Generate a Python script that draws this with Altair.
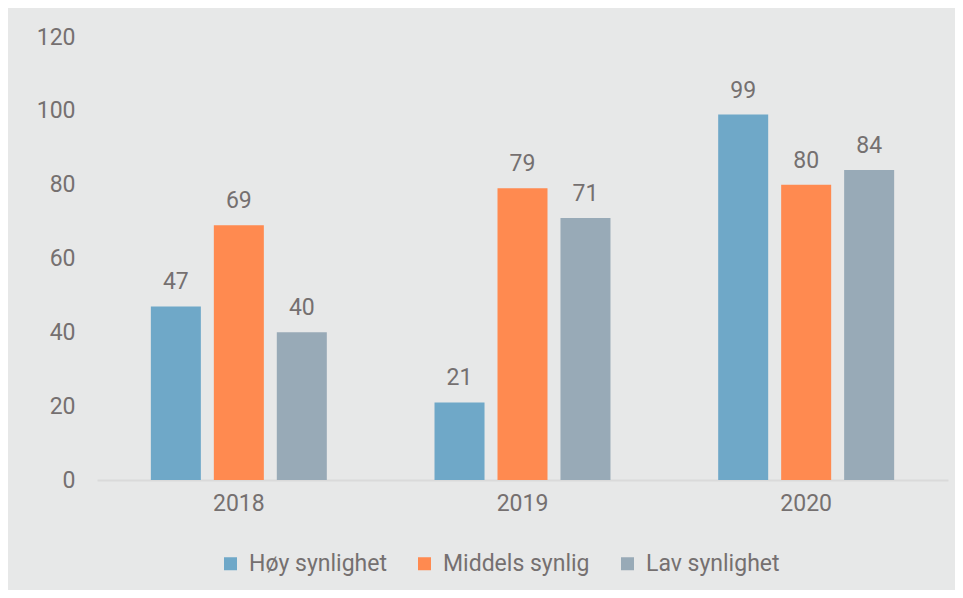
import altair as alt
import pandas as pd

years = ["2018", "2019", "2020"]
series = ["Høy synlighet", "Middels synlig", "Lav synlighet"]
hoy = [47, 21, 99]
middels = [69, 79, 80]
lav = [40, 71, 84]
colors = ["#6fa8c8", "#ff8a50", "#98aab7"]

rows = []
for name, vals in zip(series, [hoy, middels, lav]):
    for y, v in zip(years, vals):
        rows.append({"year": y, "series": name, "value": v})
df = pd.DataFrame(rows)

txt = "#757070"
font = "Roboto"
fs = 23

base = alt.Chart(df).encode(
    x=alt.X("year:N", sort=years,
            scale=alt.Scale(paddingInner=0, paddingOuter=0),
            axis=alt.Axis(title=None, labelAngle=0, ticks=False, domain=True,
                          domainColor="#dadada", domainWidth=2,
                          labelFontSize=fs, labelColor=txt, labelFont=font,
                          labelPadding=12, grid=False)),
    xOffset=alt.XOffset("series:N", sort=series,
                        scale=alt.Scale(paddingInner=0.206, paddingOuter=0.855)),
)

bars = base.mark_bar().encode(
    y=alt.Y("value:Q", scale=alt.Scale(domain=[0, 120]),
            axis=alt.Axis(title=None, values=[0, 20, 40, 60, 80, 100, 120],
                          grid=False, ticks=False, domain=False,
                          labelFontSize=fs, labelColor=txt, labelFont=font,
                          labelPadding=22, minExtent=60, maxExtent=60)),
    color=alt.Color("series:N", sort=series,
                    scale=alt.Scale(domain=series, range=colors),
                    legend=alt.Legend(title=None, orient="none", direction="horizontal",
                                      legendX=122, legendY=515,
                                      symbolType="square", symbolSize=169,
                                      symbolStrokeWidth=0,
                                      labelFontSize=23, labelColor=txt, labelFont=font,
                                      columnPadding=26, labelOffset=7)),
)

labels = base.mark_text(baseline="alphabetic", dy=-17, fontSize=fs, color=txt, font=font).encode(
    y=alt.Y("value:Q"),
    text=alt.Text("value:Q"),
)

chart = (bars + labels).properties(
    width=851, height=443,
    background="#e7e8e8",
    padding={"left": 89, "top": 29, "right": 7, "bottom": 110},
    autosize=alt.AutoSizeParams(type="none"),
).configure_view(stroke=None)

chart.save("out.html", embed_options={"renderer": "svg", "actions": False})
